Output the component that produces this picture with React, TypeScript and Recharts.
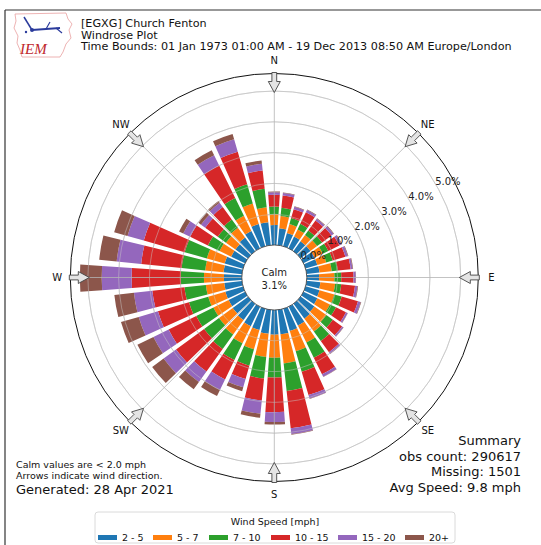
import { RadialBarChart, RadialBar, PolarAngleAxis, PolarRadiusAxis, PolarGrid } from 'recharts'

// wind direction bins (degrees, clockwise from N)
const directions = [
  0, 10, 20, 30, 40, 50, 60, 70, 80, 90, 100, 110,
  120, 130, 140, 150, 160, 170, 180, 190, 200, 210, 220, 230,
  240, 250, 260, 270, 280, 290, 300, 310, 320, 330, 340, 350,
]

// percent of observations per speed bin
const speed2to5 = [
  0.65, 0.55, 0.45, 0.42, 0.4, 0.4, 0.4, 0.4, 0.42, 0.4, 0.45, 0.47,
  0.5, 0.55, 0.6, 0.68, 0.75, 0.8, 0.8, 0.78, 0.72, 0.7, 0.65, 0.62,
  0.6, 0.6, 0.58, 0.58, 0.6, 0.62, 0.5, 0.5, 0.55, 0.63, 0.75, 0.75,
]
const speed5to7 = [
  0.35, 0.4, 0.3, 0.26, 0.25, 0.27, 0.3, 0.3, 0.4, 0.5, 0.48, 0.5,
  0.45, 0.48, 0.52, 0.62, 0.69, 0.95, 0.75, 0.76, 0.65, 0.62, 0.58, 0.55,
  0.55, 0.58, 0.6, 0.65, 0.6, 0.6, 0.42, 0.38, 0.4, 0.55, 0.7, 0.49,
]
const speed7to10 = [
  0.25, 0.27, 0.2, 0.2, 0.18, 0.2, 0.2, 0.22, 0.2, 0.22, 0.2, 0.25,
  0.22, 0.26, 0.38, 0.55, 0.69, 0.9, 0.64, 0.7, 0.55, 0.6, 0.58, 0.6,
  0.62, 0.65, 0.7, 0.75, 0.77, 0.75, 0.42, 0.33, 0.33, 0.64, 0.65, 0.6,
]
const speed10to15 = [
  0.38, 0.4, 0.3, 0.42, 0.4, 0.38, 0.4, 0.43, 0.42, 0.4, 0.45, 0.55,
  0.36, 0.37, 0.45, 0.6, 0.79, 1.22, 1.13, 0.72, 0.45, 0.7, 0.9, 1.13,
  1.0, 1.05, 1.05, 1.6, 1.32, 1.38, 0.64, 0.5, 0.5, 1.18, 1.1, 0.6,
]
const speed15to20 = [
  0.08, 0.08, 0.08, 0.08, 0.07, 0.08, 0.08, 0.08, 0.06, 0.07, 0.08, 0.09,
  0.06, 0.05, 0.06, 0.09, 0.12, 0.19, 0.32, 0.43, 0.28, 0.38, 0.42, 0.5,
  0.55, 0.65, 0.6, 0.97, 0.8, 0.55, 0.25, 0.17, 0.17, 0.37, 0.42, 0.22,
]
const speed20plus = [
  0.03, 0.02, 0.02, 0.02, 0.02, 0.02, 0.02, 0.02, 0.02, 0.01, 0.02, 0.02,
  0.01, 0.01, 0.01, 0.01, 0.01, 0.02, 0.08, 0.13, 0.13, 0.22, 0.29, 0.46,
  0.58, 0.6, 0.64, 0.71, 0.57, 0.45, 0.15, 0.1, 0.07, 0.18, 0.18, 0.11,
]

const speedLabels = ['2 - 5', '5 - 7', '7 - 10', '10 - 15', '15 - 20', '20+']
const speedKeys = ['s1', 's2', 's3', 's4', 's5', 's6']
const COLORS = ['#1f77b4', '#ff7f0e', '#2ca02c', '#d62728', '#9467bd', '#8c564b']

const rTicks = [0, 1, 2, 3, 4, 5]
const compass = ['N', 'NE', 'E', 'SE', 'S', 'SW', 'W', 'NW']

const data = directions.map((d, i) => ({
  dir: d,
  s1: speed2to5[i],
  s2: speed5to7[i],
  s3: speed7to10[i],
  s4: speed10to15[i],
  s5: speed15to20[i],
  s6: speed20plus[i],
}))

const W = 541
const H = 545
const CX = 274.3
const CY = 277.5
const R_IN = 32.5
const PX_PER_PCT = 30.79
const R_EDGE = 204 // black outer circle
const AXIS_MAX = 6 // radius axis domain top (kept "nice" so recharts won't change it)
const R_OUT = R_IN + AXIS_MAX * PX_PER_PCT
const FONT = 'DejaVu Sans, sans-serif'
const LABEL_ANGLE = 29

const ringR = (v: number) => R_IN + v * PX_PER_PCT

function RadiusTick(props: any) {
  const { x, y, payload } = props
  const a = (LABEL_ANGLE * Math.PI) / 180
  return (
    <text
      x={x + 12 * Math.cos(a)}
      y={y - 12 * Math.sin(a)}
      textAnchor="middle"
      dominantBaseline="central"
      fontSize={10}
      fontFamily={FONT}
      fill="#222"
    >
      {Number(payload.value).toFixed(1)}%
    </text>
  )
}

function arrowPoints(deg: number) {
  const t = (deg * Math.PI) / 180
  const dx = Math.sin(t)
  const dy = -Math.cos(t)
  const px = -dy
  const py = dx
  const shape = [
    [0, -2.4], [9, -2.4], [9, -6], [20, 0], [9, 6], [9, 2.4], [0, 2.4],
  ]
  return shape
    .map(([u, v]) => {
      const r = 205 - u
      return `${(CX + r * dx + v * px).toFixed(1)},${(CY + r * dy + v * py).toFixed(1)}`
    })
    .join(' ')
}

function Overlay() {
  return (
    <svg width={W} height={H} style={{ position: 'absolute', left: 0, top: 0, pointerEvents: 'none' }}>
      {/* frame */}
      <line x1={5} y1={10} x2={W} y2={10} stroke="#333" strokeWidth={1.2} />
      <line x1={5} y1={10} x2={5} y2={H} stroke="#333" strokeWidth={1.2} />

      {/* logo */}
      <path
        d="M15,14 L66,13 L68,19 L72,24 L69,30 L71,38 L66,44 L63,52 L60,57 L22,57 L20,50 L17,43 L18,36 L14,28 L16,21 Z"
        fill="none"
        stroke="#e8a0a0"
        strokeWidth={0.8}
      />
      <line x1={24} y1={17} x2={32} y2={30} stroke="#2b3b9c" strokeWidth={1.5} />
      <line x1={32} y1={30} x2={60} y2={28} stroke="#2b3b9c" strokeWidth={2.2} />
      <line x1={46} y1={29} x2={50} y2={22} stroke="#2b3b9c" strokeWidth={1.2} />
      <line x1={56} y1={28} x2={62} y2={33} stroke="#2b3b9c" strokeWidth={1.2} />
      <circle cx={32} cy={30} r={2} fill="#2b3b9c" />
      <circle cx={26} cy={32} r={1.2} fill="#2b3b9c" />
      <text x={20} y={54} fontSize={15} fontStyle="italic" fontFamily="Liberation Serif, serif" fill="#c0282d">
        IEM
      </text>

      {/* title */}
      <g fontFamily={FONT} fontSize={11.2} fill="#111">
        <text x={81} y={27}>[EGXG] Church Fenton</text>
        <text x={81} y={38.5}>Windrose Plot</text>
        <text x={81} y={50}>Time Bounds: 01 Jan 1973 01:00 AM - 19 Dec 2013 08:50 AM Europe/London</text>
      </g>

      {/* grid drawn over the bars, like the original */}
      {rTicks.slice(1).map((t) => (
        <circle key={t} cx={CX} cy={CY} r={ringR(t)} fill="none" stroke="#c8c8c8" strokeOpacity={0.6} strokeWidth={0.8} />
      ))}
      {compass.map((c, i) => {
        const t = (i * 45 * Math.PI) / 180
        return (
          <line
            key={c}
            x1={CX + R_IN * Math.sin(t)}
            y1={CY - R_IN * Math.cos(t)}
            x2={CX + R_EDGE * Math.sin(t)}
            y2={CY - R_EDGE * Math.cos(t)}
            stroke="#b4b4b4"
            strokeWidth={0.8}
          />
        )
      })}
      <circle cx={CX} cy={CY} r={R_EDGE} fill="none" stroke="#111" strokeWidth={1} />

      {/* calm circle */}
      <circle cx={CX} cy={CY} r={R_IN} fill="#fff" stroke="#333" strokeWidth={0.8} />
      <g fontFamily={FONT} fontSize={10} fill="#222" textAnchor="middle">
        <text x={CX} y={276}>Calm</text>
        <text x={CX} y={289}>3.1%</text>
      </g>

      {/* direction arrows and labels */}
      {compass.map((c, i) => {
        const deg = i * 45
        const t = (deg * Math.PI) / 180
        return (
          <g key={c}>
            <polygon points={arrowPoints(deg)} fill="#e4e4e4" stroke="#444" strokeWidth={0.9} />
            <text
              x={CX + 217 * Math.sin(t)}
              y={CY - 217 * Math.cos(t)}
              textAnchor="middle"
              dominantBaseline="central"
              fontFamily={FONT}
              fontSize={10}
              fill="#111"
            >
              {c}
            </text>
          </g>
        )
      })}

      {/* notes */}
      <g fontFamily={FONT} fill="#111">
        <text x={16} y={468} fontSize={9.5}>Calm values are &lt; 2.0 mph</text>
        <text x={16} y={479} fontSize={9.5}>Arrows indicate wind direction.</text>
        <text x={16} y={494} fontSize={13}>Generated: 28 Apr 2021</text>
      </g>
      <g fontFamily={FONT} fill="#111" fontSize={13} textAnchor="end">
        <text x={521} y={445}>Summary</text>
        <text x={521} y={460.5}>obs count: 290617</text>
        <text x={521} y={476}>Missing: 1501</text>
        <text x={521} y={491.5}>Avg Speed: 9.8 mph</text>
      </g>

      {/* legend */}
      <rect x={95} y={512} width={360} height={31} rx={3} fill="#fff" stroke="#d0d0d0" strokeWidth={0.8} />
      <text x={275} y={525} textAnchor="middle" fontFamily={FONT} fontSize={9.5} fill="#111">
        Wind Speed [mph]
      </text>
      {speedLabels.map((lab, i) => {
        const xs = [98, 153, 209, 271, 338, 405]
        return (
          <g key={lab}>
            <rect x={xs[i]} y={535} width={19} height={5} fill={COLORS[i]} />
            <text x={xs[i] + 24} y={541} fontFamily={FONT} fontSize={9.5} fill="#111">
              {lab}
            </text>
          </g>
        )
      })}
    </svg>
  )
}

export default function App() {
  return (
    <div style={{ position: 'absolute', left: 0, top: 0, width: W, height: H, background: '#fff' }}>
      <RadialBarChart
        width={W}
        height={H}
        data={data}
        layout="centric"
        cx={CX}
        cy={CY}
        innerRadius={R_IN}
        outerRadius={R_OUT}
        startAngle={85}
        endAngle={-275}
        barCategoryGap="12%"
        margin={{ top: 0, right: 0, bottom: 0, left: 0 }}
      >
        <PolarAngleAxis type="category" dataKey="dir" tick={false} axisLine={false} />
        <PolarRadiusAxis
          type="number"
          domain={[0, AXIS_MAX]}
          ticks={rTicks}
          angle={LABEL_ANGLE}
          axisLine={false}
          tickLine={false}
          tick={<RadiusTick />}
        />
        <PolarGrid gridType="circle" polarAngles={[]} stroke="#c0c0c0" strokeWidth={0.8} />
        {speedKeys.map((k, i) => (
          <RadialBar
            key={k}
            dataKey={k}
            name={speedLabels[i]}
            stackId="ws"
            fill={COLORS[i]}
            isAnimationActive={false}
          />
        ))}
      </RadialBarChart>
      <Overlay />
    </div>
  )
}
